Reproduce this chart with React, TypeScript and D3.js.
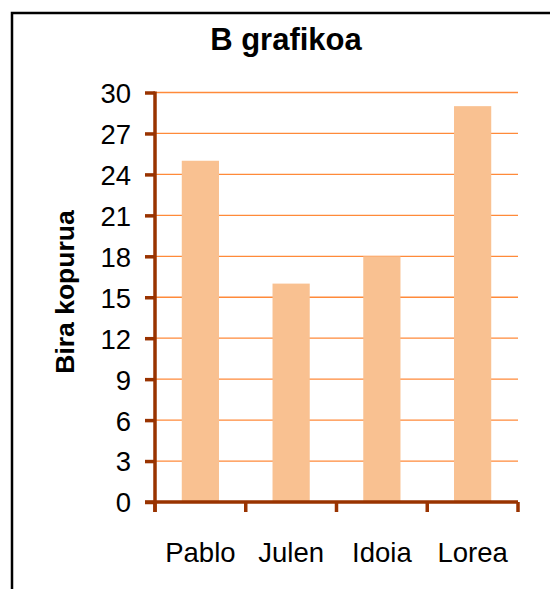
import React, { useRef, useEffect } from "react";
import { select, scaleBand, scaleLinear, axisLeft, axisBottom } from "d3";

const categories = ["Pablo", "Julen", "Idoia", "Lorea"];
const values = [25, 16, 18, 29];
const yTicks = [0, 3, 6, 9, 12, 15, 18, 21, 24, 27, 30];
const chartTitle = "B grafikoa";
const yTitle = "Bira kopurua";

const W = 550;
const H = 589;

const App = () => {
  const svgRef = useRef<SVGSVGElement>(null);

  useEffect(() => {
    const svg = select(svgRef.current);
    svg.selectAll("*").remove();

    const margin = { top: 92.5, right: 32, bottom: 87, left: 155 };
    const width = W - margin.left - margin.right;
    const height = H - margin.top - margin.bottom;

    // frame
    svg
      .append("rect")
      .attr("x", 12)
      .attr("y", 13)
      .attr("width", W)
      .attr("height", H)
      .attr("fill", "white")
      .attr("stroke", "black")
      .attr("stroke-width", 2.5);

    const g = svg
      .append("g")
      .attr("transform", `translate(${margin.left},${margin.top})`);

    const xScale = scaleBand().domain(categories).range([0, width]).padding(0);
    const yScale = scaleLinear().domain([0, 30]).range([height, 0]);

    // gridlines
    g.selectAll(".grid")
      .data(yTicks.slice(1))
      .enter()
      .append("line")
      .attr("x1", 0)
      .attr("x2", width)
      .attr("y1", (d) => yScale(d))
      .attr("y2", (d) => yScale(d))
      .attr("stroke", "#FF8a3a")
      .attr("stroke-width", 1.3);

    // bars
    const barW = xScale.bandwidth() * 0.41;
    g.selectAll(".bar")
      .data(values)
      .enter()
      .append("rect")
      .attr("x", (d, i) => xScale(categories[i])! + (xScale.bandwidth() - barW) / 2)
      .attr("width", barW)
      .attr("y", (d) => yScale(d))
      .attr("height", (d) => height - yScale(d))
      .attr("fill", "#F9C191");

    const axisColor = "#993300";

    // Y axis
    const yAxis = g
      .append("g")
      .call(axisLeft(yScale).tickValues(yTicks).tickSize(10).tickPadding(14));
    yAxis.select(".domain").remove();
    yAxis
      .append("line")
      .attr("x1", 0)
      .attr("x2", 0)
      .attr("y1", -1)
      .attr("y2", height + 10)
      .attr("stroke", axisColor)
      .attr("stroke-width", 3.5);
    yAxis.selectAll(".tick line").attr("stroke", axisColor).attr("stroke-width", 3.5);
    yAxis
      .selectAll(".tick text")
      .attr("fill", "black")
      .style("font-family", "'Liberation Sans', Arial, sans-serif")
      .style("font-size", "27.5px")
      .attr("dy", "0.36em");

    // X axis
    const xAxis = g
      .append("g")
      .attr("transform", `translate(0,${height})`)
      .call(axisBottom(xScale).tickSize(0).tickPadding(40));
    xAxis.select(".domain").remove();
    xAxis
      .append("line")
      .attr("x1", -10)
      .attr("x2", width)
      .attr("y1", 0)
      .attr("y2", 0)
      .attr("stroke", axisColor)
      .attr("stroke-width", 3.5);
    xAxis
      .selectAll(".bound")
      .data([...categories.map((c) => xScale(c)!), width])
      .enter()
      .append("line")
      .attr("x1", (d) => d)
      .attr("x2", (d) => d)
      .attr("y1", 0)
      .attr("y2", 10)
      .attr("stroke", axisColor)
      .attr("stroke-width", 3.5);
    xAxis
      .selectAll(".tick text")
      .attr("fill", "black")
      .style("font-family", "'Liberation Sans', Arial, sans-serif")
      .style("font-size", "27.5px");

    // Y axis title
    svg
      .append("text")
      .attr("transform", `translate(74,292) rotate(-90)`)
      .attr("text-anchor", "middle")
      .style("font-family", "'Liberation Sans', Arial, sans-serif")
      .style("font-size", "26.5px")
      .style("font-weight", "bold")
      .text(yTitle);

    // Title
    svg
      .append("text")
      .attr("x", 286)
      .attr("y", 50)
      .attr("text-anchor", "middle")
      .style("font-family", "'Liberation Sans', Arial, sans-serif")
      .style("font-size", "31px")
      .style("font-weight", "bold")
      .text(chartTitle);
  }, []);

  return (
    <svg
      ref={svgRef}
      width={W}
      height={H}
      style={{ position: "absolute", left: 0, top: 0, background: "white" }}
    />
  );
};

export default App;
